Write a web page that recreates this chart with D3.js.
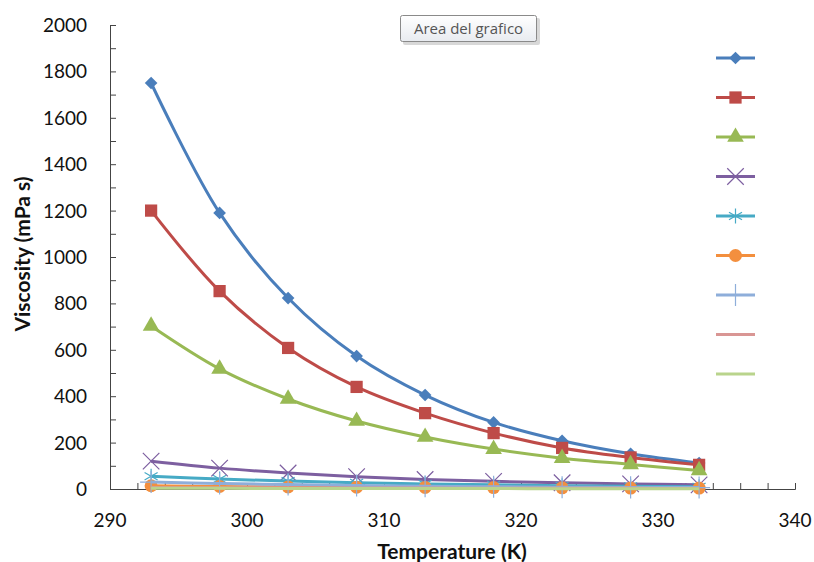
<!DOCTYPE html>
<html>
<head>
<meta charset="utf-8">
<script src="https://cdn.jsdelivr.net/npm/d3@7"></script>
<style>
body{margin:0;background:#fff;}
text{font-family:Lato,"Open Sans",sans-serif;}
</style>
</head>
<body>
<script>
var w=814;
var h=562;

// dati
var temps=[293,298,303,308,313,318,323,328,333];
var s1=[1750,1190,823,573,405,287,208,152,112];
var s2=[1200,853,608,440,327,241,177,136,104];
var s3=[703,518,388,293,224,172,133,106,80];
var s4=[120,90,69,53,41,33,27,22,18];
var s5=[55,43,34,27,22,18,14,12,10];
var s6=[14,11,9,8,7,6,5,4,4];
var s7=[30,24,19,15,12,10,8,7,6];
var s8=[6,5,5,4,4,3,3,3,2];
var s9=[3,3,2,2,2,2,1,1,1];
var series=[s1,s2,s3,s4,s5,s6,s7,s8,s9];
var colors=["#4A7EBB","#BE4B48","#98B954","#7D5FA0","#46AAC5","#F38F3E","#8EAEDA","#D99694","#B9D48C"];
var markers=["diamond","square","triangle","times","asterisk","circle","plus","none","none"];
var yTicks=d3.range(0,2001,200);
var xTicks=d3.range(290,341,10);

var svg=d3.select("body").append("svg")
	.attr("width",w).attr("height",h);

var x=d3.scaleLinear().domain([290,340]).range([110,795]);
var y=d3.scaleLinear().domain([0,2000]).range([489,25]);

// assi
var gx=svg.append("g").attr("transform","translate(0,"+y(0)+")")
	.call(d3.axisBottom(x).tickValues(d3.range(290,341,2)).tickSize(-6).tickFormat(""));
var gy=svg.append("g").attr("transform","translate("+x(290)+",0)")
	.call(d3.axisLeft(y).tickValues(d3.range(0,2001,100)).tickSize(-6).tickFormat(""));
[gx,gy].forEach(function(g){
	g.select(".domain").attr("stroke","#444").attr("stroke-width",1);
	g.selectAll(".tick line").attr("stroke","#444");
});

svg.selectAll("text.ylab").data(yTicks).enter().append("text")
	.attr("class","ylab")
	.attr("x",87).attr("y",function(d){return y(d)+7;})
	.attr("text-anchor","end").attr("font-size",19).attr("fill","#111")
	.text(function(d){return d;});
svg.selectAll("text.xlab").data(xTicks).enter().append("text")
	.attr("class","xlab")
	.attr("x",function(d){return x(d);}).attr("y",527)
	.attr("text-anchor","middle").attr("font-size",19).attr("fill","#111")
	.text(function(d){return d;});

svg.append("text").attr("x",452).attr("y",559).attr("text-anchor","middle")
	.attr("font-size",21).attr("font-weight","bold").attr("fill","#111")
	.text("Temperature (K)");
svg.append("text").attr("transform","translate(30,254) rotate(-90)").attr("text-anchor","middle")
	.attr("font-size",21).attr("font-weight","bold").attr("fill","#111")
	.text("Viscosity (mPa s)");

// marcatori
var drawMarker=function(g,type,color,cx,cy){
	var m;
	if(type=="diamond"){
		m=g.append("path").attr("d",d3.symbol(d3.symbolSquare,80)())
			.attr("transform","translate("+cx+","+cy+") rotate(45)").attr("fill",color);
	}else if(type=="square"){
		m=g.append("path").attr("d",d3.symbol(d3.symbolSquare,150)())
			.attr("transform","translate("+cx+","+cy+")").attr("fill",color);
	}else if(type=="triangle"){
		m=g.append("path").attr("d",d3.symbol(d3.symbolTriangle,120)())
			.attr("transform","translate("+cx+","+cy+")").attr("fill",color);
	}else if(type=="circle"){
		m=g.append("circle").attr("cx",cx).attr("cy",cy).attr("r",6.5).attr("fill",color);
	}else if(type=="times"){
		m=g.append("path").attr("d",d3.symbol(d3.symbolTimes,180)())
			.attr("transform","translate("+cx+","+cy+")").attr("fill","none")
			.attr("stroke",color).attr("stroke-width",1.2);
	}else if(type=="asterisk"){
		m=g.append("path").attr("d",d3.symbol(d3.symbolAsterisk,160)())
			.attr("transform","translate("+cx+","+cy+")").attr("fill","none")
			.attr("stroke",color).attr("stroke-width",1.2);
	}else if(type=="plus"){
		m=g.append("path").attr("d",d3.symbol(d3.symbolPlus,160)())
			.attr("transform","translate("+cx+","+cy+")").attr("fill","none")
			.attr("stroke",color).attr("stroke-width",1.2);
	}
	return m;
}

// serie
var line=d3.line().curve(d3.curveCatmullRom)
	.x(function(d,i){return x(temps[i]);})
	.y(function(d){return y(d);});

series.forEach(function(s,k){
	var g=svg.append("g");
	g.append("path").datum(s).attr("d",line)
		.attr("fill","none").attr("stroke",colors[k]).attr("stroke-width",3);
	s.forEach(function(v,i){
		drawMarker(g,markers[k],colors[k],x(temps[i]),y(v));
	});
});

// legenda (senza nomi)
series.forEach(function(s,k){
	var ly=58+k*39.5;
	var g=svg.append("g");
	g.append("line").attr("x1",716).attr("x2",755).attr("y1",ly).attr("y2",ly)
		.attr("stroke",colors[k]).attr("stroke-width",3);
	drawMarker(g,markers[k],colors[k],735.5,ly);
});

// etichetta "Area del grafico"
var defs=svg.append("defs");
var grad=defs.append("linearGradient").attr("id","tipg").attr("x1",0).attr("y1",0).attr("x2",0).attr("y2",1);
grad.append("stop").attr("offset","0%").attr("stop-color","#ffffff");
grad.append("stop").attr("offset","100%").attr("stop-color","#e8ebf0");
svg.append("rect").attr("x",403).attr("y",18).attr("width",137).attr("height",27)
	.attr("rx",2).attr("fill","#c8c8c8").attr("opacity",0.7);
svg.append("rect").attr("x",400.5).attr("y",15.5).attr("width",136).attr("height",26)
	.attr("rx",2).attr("fill","url(#tipg)").attr("stroke","#8a8a8a");
svg.append("text").attr("x",468.5).attr("y",34).attr("text-anchor","middle")
	.attr("font-size",15).attr("fill","#555")
	.style("font-family","'Open Sans',sans-serif")
	.text("Area del grafico");
</script>
</body>
</html>
